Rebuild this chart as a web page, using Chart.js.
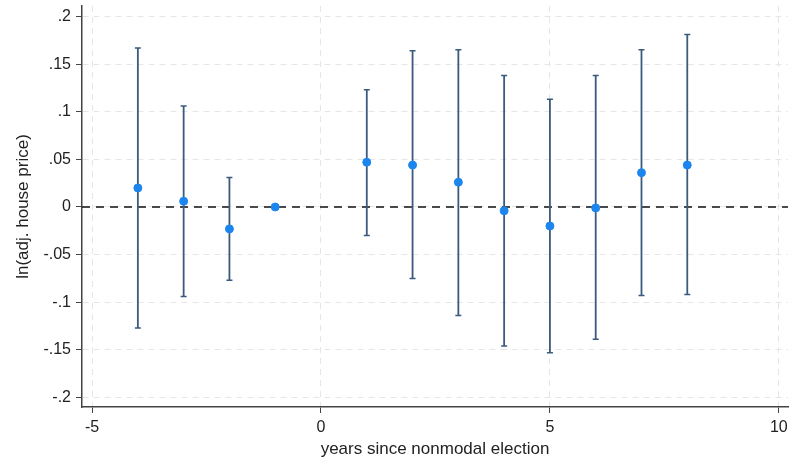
<!DOCTYPE html>
<html>
<head>
<meta charset="utf-8">
<script src="https://cdn.jsdelivr.net/npm/chart.js@4"></script>
<style>
  body { margin: 0; background: #fff; }
  #chart-box { width: 793px; height: 464px; }
</style>
</head>
<body>
<div id="chart-box"><canvas id="chart" width="793" height="464"></canvas></div>
<script>
'use strict';

// ***** DATA *****
const years = [-4, -3, -2, -1, 1, 2, 3, 4, 5, 6, 7, 8];
const estimates = [0.020, 0.006, -0.023, 0, 0.047, 0.044, 0.026, -0.004, -0.020, -0.001, 0.036, 0.044];
const ciLow = [-0.127, -0.094, -0.077, null, -0.030, -0.075, -0.114, -0.146, -0.153, -0.139, -0.093, -0.092];
const ciHigh = [0.167, 0.106, 0.031, null, 0.123, 0.164, 0.165, 0.138, 0.113, 0.138, 0.165, 0.181];
const xTicks = [-5, 0, 5, 10];
const yTicks = [-0.2, -0.15, -0.1, -0.05, 0, 0.05, 0.1, 0.15, 0.2];

// ***** HELPERS *****
function stataLabel(v){
  if (Math.abs(v) < 1e-9) return '0';
  return String(+v.toFixed(2)).replace('0.', '.');
}

// draws the zero reference line and the confidence interval whiskers
const errorBars = {
  id: 'errorBars',
  beforeDatasetsDraw(chart){
    const ctx = chart.ctx;
    const xs = chart.scales.x;
    const ys = chart.scales.y;
    const area = chart.chartArea;

    ctx.save();
    ctx.strokeStyle = '#111';
    ctx.lineWidth = 1.6;
    ctx.setLineDash([8, 6]);
    ctx.beginPath();
    ctx.moveTo(area.left, ys.getPixelForValue(0));
    ctx.lineTo(area.right, ys.getPixelForValue(0));
    ctx.stroke();
    ctx.setLineDash([]);

    ctx.strokeStyle = '#3a5a7e';
    for (let i = 0; i < years.length; i++){
      if (ciLow[i] === null) continue;
      const x = xs.getPixelForValue(years[i]);
      const top = ys.getPixelForValue(ciHigh[i]);
      const bot = ys.getPixelForValue(ciLow[i]);
      ctx.lineWidth = 1.8;
      ctx.beginPath();
      ctx.moveTo(x, top);
      ctx.lineTo(x, bot);
      ctx.stroke();
      ctx.lineWidth = 1.5;
      ctx.beginPath();
      ctx.moveTo(x - 3, top);
      ctx.lineTo(x + 3, top);
      ctx.moveTo(x - 3, bot);
      ctx.lineTo(x + 3, bot);
      ctx.stroke();
    }
    ctx.restore();
  }
};

// ***** CHART *****
const tickFont = { family: 'Liberation Sans, Arial, sans-serif', size: 16 };
const titleFont = { family: 'Liberation Sans, Arial, sans-serif', size: 17 };

new Chart(document.getElementById('chart'), {
  type: 'scatter',
  data: {
    datasets: [{
      data: years.map((y, i) => ({ x: y, y: estimates[i] })),
      backgroundColor: '#1c86ee',
      borderColor: '#1c86ee',
      pointRadius: 4,
      pointHoverRadius: 4
    }]
  },
  options: {
    responsive: false,
    animation: false,
    layout: { padding: { left: 9, top: 6, right: 3, bottom: 0 } },
    plugins: { legend: { display: false }, tooltip: { enabled: false } },
    scales: {
      x: {
        type: 'linear',
        min: -5.22,
        max: 10.2,
        afterBuildTicks(scale){ scale.ticks = xTicks.map(v => ({ value: v })); },
        afterFit(scale){ scale.height = 57; },
        ticks: { color: '#222', font: tickFont, padding: 5, maxRotation: 0 },
        grid: { color: '#e6e6e6', tickColor: '#444', tickLength: 6, tickWidth: 1 },
        border: { color: '#444', width: 1.5, dash: [6, 5] },
        title: { display: true, text: 'years since nonmodal election', color: '#222', font: titleFont, padding: { top: 2, bottom: 4 } }
      },
      y: {
        type: 'linear',
        min: -0.21,
        max: 0.211,
        afterBuildTicks(scale){ scale.ticks = yTicks.map(v => ({ value: v })); },
        afterFit(scale){
          scale.width = 73;
          scale.paddingTop = 0;
          scale.paddingBottom = 0;
        },
        ticks: { color: '#222', font: tickFont, padding: 5, callback: v => stataLabel(v) },
        grid: { color: '#e6e6e6', tickColor: '#444', tickLength: 6, tickWidth: 1 },
        border: { color: '#444', width: 1.5, dash: [6, 5] },
        title: { display: true, text: 'ln(adj. house price)', color: '#222', font: titleFont, padding: { top: 4, bottom: 2 } }
      }
    }
  },
  plugins: [errorBars]
});
</script>
</body>
</html>
